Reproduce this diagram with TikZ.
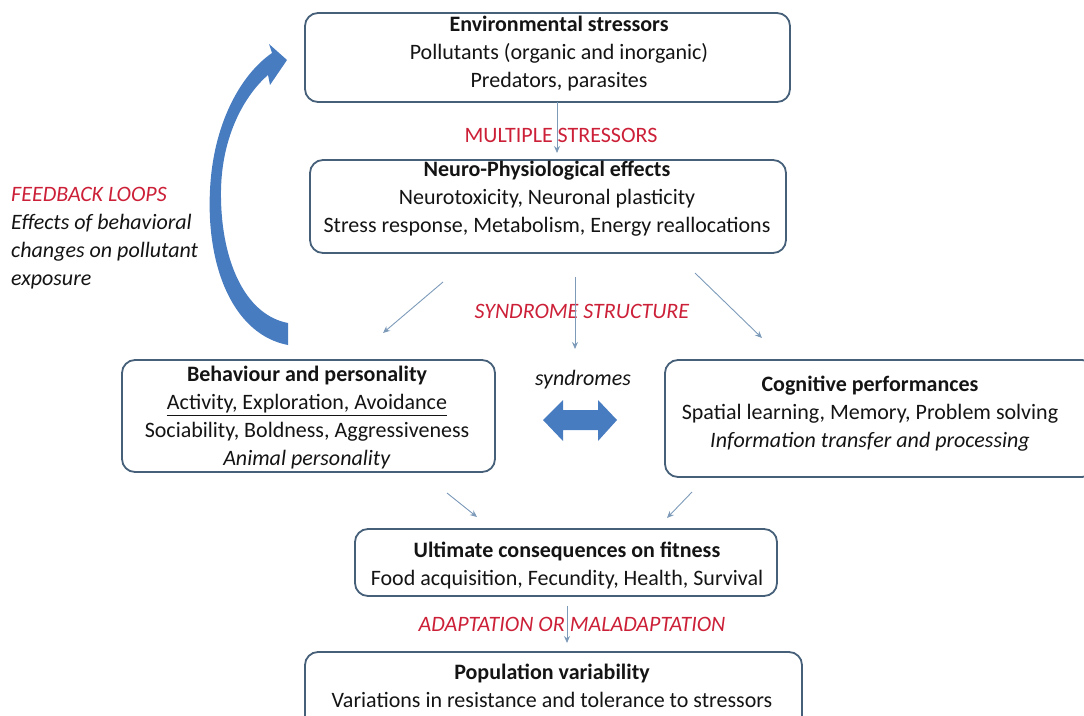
\documentclass[tikz,border=0pt]{standalone}
\usepackage{fontspec}
\setmainfont{Carlito}
\usetikzlibrary{arrows.meta}
\definecolor{boxline}{RGB}{70,96,122}
\definecolor{redlab}{RGB}{204,32,56}
\definecolor{bigblue}{RGB}{72,124,192}
\definecolor{thinarrow}{RGB}{125,155,185}
\definecolor{ink}{RGB}{20,20,20}
\begin{document}
\begin{tikzpicture}[x=1pt,y=-1pt,
  every node/.style={text=ink},
  framebox/.style={draw=boxline, line width=1.8pt, rounded corners=13pt, inner sep=0pt},
  boxtext/.style={align=center, font=\fontsize{22}{28}\selectfont, inner sep=0pt},
  redlabel/.style={text=redlab, font=\fontsize{22}{28}\selectfont, inner sep=0pt},
  thinlink/.style={draw=thinarrow, line width=0.9pt, -{Stealth[length=7pt,width=6pt]}},
  bigarrow/.style={fill=bigblue}]
\useasboundingbox (0,0) rectangle (1084,715);
\clip (0,0) rectangle (1084,715);

% boxes
\node[framebox, minimum width=485pt, minimum height=89pt] (env) at (547.5,57.5) {};
\node[framebox, minimum width=476pt, minimum height=93pt] (neuro) at (548,206.5) {};
\node[framebox, minimum width=373pt, minimum height=112pt] (behav) at (308.5,416) {};
\node[framebox, minimum width=430pt, minimum height=117pt] (cogn) at (880,418.5) {};
\node[framebox, minimum width=422pt, minimum height=67pt] (fit) at (566,562.5) {};
\node[framebox, minimum width=497pt, minimum height=78pt] (pop) at (553.5,691) {};

% box texts
\node[boxtext] (envT) at (559,54) {\textbf{Environmental stressors}\\Pollutants (organic and inorganic)\\Predators, parasites};
\node[boxtext] (neuroT) at (547,199) {\textbf{Neuro-Physiological effects}\\Neurotoxicity, Neuronal plasticity\\Stress response, Metabolism, Energy reallocations};
\node[boxtext] (behavT) at (307,418) {\textbf{Behaviour and personality}\\\underline{Activity, Exploration, Avoidance}\\Sociability, Boldness, Aggressiveness\\\textit{Animal personality}};
\node[boxtext] (cognT) at (870,414) {\textbf{Cognitive performances}\\Spatial learning, Memory, Problem solving\\\textit{Information transfer and processing}};
\node[boxtext] (fitT) at (567,566) {\textbf{Ultimate consequences on fitness}\\Food acquisition, Fecundity, Health, Survival};
\node[boxtext] (popT) at (552,686) {\textbf{Population variability}\\Variations in resistance and tolerance to stressors};

% side and link labels
\node[boxtext, align=left, anchor=west] (fb) at (11,238) {\textcolor{redlab}{\textit{FEEDBACK LOOPS}}\\\textit{Effects of behavioral}\\\textit{changes on pollutant}\\\textit{exposure}};
\node[redlabel] (ms) at (561,135) {MULTIPLE STRESSORS};
\node[redlabel] (ss) at (582,311) {\textit{SYNDROME STRUCTURE}};
\node[boxtext] (syn) at (583,380) {\textit{syndromes}};
\node[redlabel] (am) at (572,624) {\textit{ADAPTATION OR MALADAPTATION}};

% free ends of the thin links
\coordinate (a1s) at (557,102);  \coordinate (a1e) at (557,153);
\coordinate (a2s) at (443,282);  \coordinate (a2e) at (383,333);
\coordinate (a3s) at (575,277);  \coordinate (a3e) at (575,349);
\coordinate (a4s) at (695,273);  \coordinate (a4e) at (762,338);
\coordinate (a5s) at (447,493);  \coordinate (a5e) at (477,517);
\coordinate (a6s) at (692,492);  \coordinate (a6e) at (667,518);
\coordinate (a7s) at (567,606);  \coordinate (a7e) at (567,643);

\draw[thinlink] (a1s) -- (a1e);
\draw[thinlink] (a2s) -- (a2e);
\draw[thinlink] (a3s) -- (a3e);
\draw[thinlink] (a4s) -- (a4e);
\draw[thinlink] (a5s) -- (a5e);
\draw[thinlink] (a6s) -- (a6e);
\draw[thinlink] (a7s) -- (a7e);

% curved feedback arrow
\fill[bigarrow] (288,345) .. controls (235,335) and (206,270) .. (210,190)
  .. controls (213,125) and (240,75) .. (272,53) -- (269,44) -- (287,60)
  -- (270,85) -- (268,75) .. controls (245,95) and (222,135) .. (221,190)
  .. controls (220,260) and (245,315) .. (288,323) -- cycle;

% double arrow between behaviour and cognition
\fill[bigarrow] (543,420) -- (563,400) -- (563,410) -- (598,410) -- (598,400)
  -- (617,420) -- (598,441) -- (598,430) -- (563,430) -- (563,441) -- cycle;
\end{tikzpicture}
\end{document}
